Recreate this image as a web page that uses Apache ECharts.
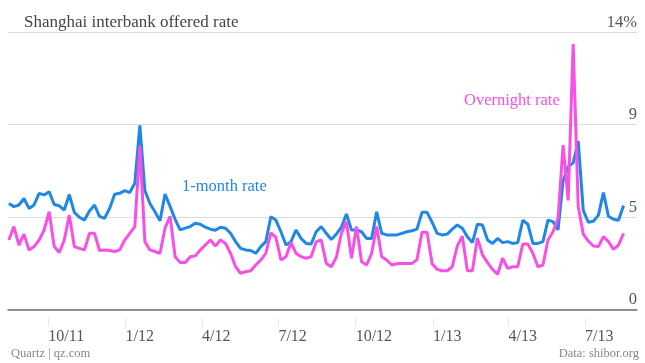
<!DOCTYPE html>
<html><head><meta charset="utf-8">
<script src="https://cdn.jsdelivr.net/npm/echarts@6/dist/echarts.min.js"></script>
<style>html,body{margin:0;padding:0;background:#fff}#c{width:645px;height:363px}</style>
</head><body><div id="c"></div>
<script>
// sampling grid: one reading every 6 days from the start date
const startDate = '2011-08-15';
const stepDays = 6;
const oneMonth = [
 5.35,5.19,5.27,5.6,5.1,5.27,5.86,5.78,5.94,5.3,
 5.23,5.02,5.8,4.9,4.65,4.51,4.97,5.27,4.7,4.6,
 5.1,5.82,5.86,6.0,5.9,6.37,9.3,6.0,5.35,4.93,
 4.48,5.82,5.2,4.55,4.01,4.1,4.18,4.35,4.3,4.15,
 4.05,4.0,4.15,4.1,3.84,3.42,3.08,3.0,2.97,2.83,
 3.17,3.42,4.68,4.51,3.92,3.25,3.42,4.01,3.58,3.33,
 3.3,3.92,4.18,3.84,3.53,3.8,4.15,4.82,4.01,4.01,
 3.92,3.58,3.58,4.93,3.84,3.76,3.76,3.76,3.84,3.92,
 3.97,4.05,4.9,4.9,4.4,3.84,3.76,3.8,4.05,4.26,
 4.1,3.67,3.37,4.3,4.26,3.5,3.33,3.58,3.37,3.42,
 3.33,3.37,4.5,4.3,3.33,3.33,3.42,4.51,4.43,4.01,
 6.5,7.2,7.4,8.5,5.0,4.4,4.45,4.75,5.9,4.7,
 4.55,4.5,5.25
];
const overnight = [
 3.5,4.18,3.25,3.8,3.0,3.17,3.5,4.01,4.93,3.17,
 2.87,3.5,4.76,3.17,3.08,3.0,3.84,3.84,2.97,3.0,
 2.97,2.92,3.0,3.5,3.84,4.18,8.25,3.42,3.0,2.92,
 2.83,4.1,4.7,2.66,2.36,2.36,2.66,2.7,3.0,3.25,
 3.5,3.2,3.5,3.33,2.83,2.15,1.82,1.9,1.95,2.24,
 2.49,2.83,3.86,3.63,2.49,2.66,3.37,2.83,2.66,2.58,
 2.66,3.42,3.5,2.32,2.15,2.63,3.84,4.43,2.58,4.18,
 2.4,2.24,2.83,4.18,2.66,2.49,2.24,2.3,2.32,2.32,
 2.32,2.5,3.9,3.9,2.3,2.02,1.95,1.95,2.15,3.2,
 3.7,1.95,1.95,3.6,2.75,2.36,2.02,1.77,2.58,2.07,
 2.15,2.15,3.3,3.3,2.83,2.15,2.24,3.5,3.92,4.6,
 8.3,5.5,13.4,5.2,3.8,3.45,3.2,3.17,3.67,3.42,
 3.03,3.25,3.84
];
const tickDates = ['2011-10-01','2012-01-01','2012-04-01','2012-07-01','2012-10-01','2013-01-01','2013-04-01','2013-07-01'];
const tickLabels = ['10/11','1/12','4/12','7/12','10/12','1/13','4/13','7/13'];
const yTickValues = [0, 14/3, 28/3, 14];
const yTickLabels = ['0','5','9','14%'];
const axisMin = '2011-08-14', axisMax = '2013-09-01';

const parse = s => { const [y,m,d] = s.split('-').map(Number); return Date.UTC(y, m-1, d); };
const s0 = startDate.split('-').map(Number);
const dateAt = i => Date.UTC(s0[0], s0[1]-1, s0[2] + i*stepDays);
const blueData = oneMonth.map((v,i) => [dateAt(i), v]);
const pinkData = overnight.map((v,i) => [dateAt(i), v]);
const tickTs = tickDates.map(parse);

const FONT = '"Liberation Serif", "Times New Roman", serif';
const chart = echarts.init(document.getElementById('c'), null, {renderer:'canvas'});
chart.setOption({
  animation: false,
  grid: {left: 8, right: 8, top: 32.3, bottom: 53.7, containLabel: false},
  xAxis: [{
    type: 'value', min: parse(axisMin), max: parse(axisMax),
    axisLine: {show: true, lineStyle: {color: '#707070', width: 1.5}},
    axisTick: {show: false}, axisLabel: {show: false}, splitLine: {show: false}
  }, {
    type: 'value', min: parse(axisMin), max: parse(axisMax), position: 'bottom', offset: 9,
    axisLine: {show: false},
    axisTick: {show: true, customValues: tickTs, length: 8, lineStyle: {color: '#e6e6e6', width: 1}},
    axisLabel: {show: true, customValues: tickTs, align: 'left', margin: 10,
      fontFamily: FONT, fontSize: 16, color: '#555',
      formatter: v => { const i = tickTs.findIndex(t => Math.abs(t - v) < 3600e3); return i >= 0 ? tickLabels[i] : ''; }},
    splitLine: {show: false}
  }],
  yAxis: {
    type: 'value', position: 'right', min: 0, max: 14, interval: 14/3,
    axisLine: {show: false}, axisTick: {show: false},
    splitLine: {show: true, lineStyle: {color: '#dcdcdc', width: 1}},
    axisLabel: {inside: true, margin: 0, align: 'right', verticalAlign: 'bottom', padding: [0,0,1,0],
      fontFamily: FONT, fontSize: 16.5, color: '#555',
      formatter: v => { const i = yTickValues.findIndex(t => Math.abs(t - v) < 1e-6); return i >= 0 ? yTickLabels[i] : ''; }}
  },
  series: [{
    name: '1-month rate', type: 'line', data: blueData, showSymbol: false, xAxisIndex: 0,
    lineStyle: {color: '#1f88e6', width: 3}, itemStyle: {color: '#1f88e6'}, z: 2
  }, {
    name: 'Overnight rate', type: 'line', data: pinkData, showSymbol: false, xAxisIndex: 0,
    lineStyle: {color: '#f84fe4', width: 3}, itemStyle: {color: '#f84fe4'}, z: 3
  }],
  graphic: [
    {type: 'text', style: {x: 24, y: 23, text: 'Shanghai interbank offered rate', fill: '#444', font: '17px ' + FONT, align: 'left', verticalAlign: 'middle'}},
    {type: 'text', style: {x: 182, y: 187, text: '1-month rate', fill: '#1f88e6', font: '16.5px ' + FONT, align: 'left', verticalAlign: 'middle'}},
    {type: 'text', style: {x: 464, y: 101, text: 'Overnight rate', fill: '#f84fe4', font: '16.5px ' + FONT, align: 'left', verticalAlign: 'middle'}},
    {type: 'text', style: {x: 11, y: 354, text: 'Quartz | qz.com', fill: '#888', font: '12.5px ' + FONT, align: 'left', verticalAlign: 'middle'}},
    {type: 'text', style: {x: 639, y: 354, text: 'Data: shibor.org', fill: '#888', font: '12.5px ' + FONT, align: 'right', verticalAlign: 'middle'}}
  ]
});
</script></body></html>
